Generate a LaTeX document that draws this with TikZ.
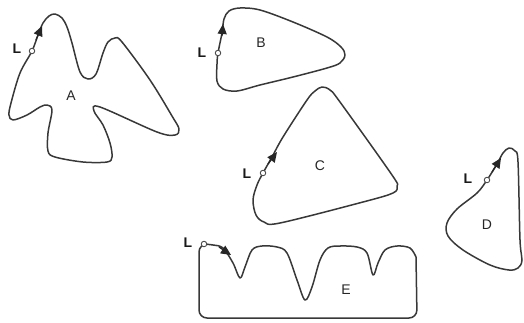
\documentclass[tikz,border=0pt]{standalone}
\usepackage{fontspec}
\setmainfont{Liberation Sans}
\usetikzlibrary{arrows.meta}

\begin{document}
\begin{tikzpicture}[
  x=1pt, y=-1pt,
  curve/.style  ={draw=black!78, line width=1.5pt, line join=round},
  start/.style  ={circle, draw=black!70, line width=0.9pt, fill=white, minimum size=5.5pt, inner sep=0pt},
  dir/.style    ={draw=black!85, line width=1.3pt, -{Triangle[length=10pt, width=9pt]}},
  shapelbl/.style={font=\fontsize{14}{16}\selectfont, text=black!85, inner sep=0pt},
  tag/.style    ={font=\fontsize{14}{16}\selectfont\bfseries, text=black!90, inner sep=0pt},
]
\useasboundingbox (0,0) rectangle (524,322);

\draw[curve] plot[smooth cycle, tension=0.55] coordinates {
  (32,51) (38,35) (43,23) (49,16) (55,14) (62,18) (67,27) (72,43) (80,72) (88,79)
  (96,74) (103,53) (108,42) (115,38) (122,42) (150,80) (172,116) (179,129) (175,135)
  (157,132) (100,107) (94,111) (103,125) (110,143) (112,157) (107,162) (83,162)
  (55,157) (48,151) (48,133) (52,110) (47,105) (40,107) (27,115) (13,120) (9,115)
  (11,103) (20,73)};

\draw[curve] plot[smooth cycle, tension=0.55] coordinates {
  (218,53) (222,33) (224,19) (229,11) (240,8) (260,10) (293,22) (327,37) (341,47)
  (345,55) (340,63) (327,68) (293,77) (260,85) (237,91) (223,89) (217,81) (217,64)};

\draw[curve] plot[smooth cycle, tension=0.55] coordinates {
  (263,173) (272,157) (283,137) (307,100) (315,91) (322,87) (330,90) (340,102)
  (392,175) (397,186) (393,193) (363,202) (280,223) (264,222) (256,215) (253,200)
  (257,185)};

\draw[curve] plot[smooth cycle, tension=0.55] coordinates {
  (487,180) (497,164) (503,153) (509,148) (515,151) (518,162) (520,240) (522,260)
  (518,268) (509,270) (490,265) (463,250) (448,236) (447,223) (457,209) (477,193)};

\draw[curve] plot[smooth, tension=0.55] coordinates {
  (203,244) (213,245) (223,248) (233,263) (240,278) (245,267) (252,250) (262,246)
  (277,247) (287,253) (297,280) (305,300) (312,287) (320,260) (328,248) (340,246)
  (357,247) (367,253) (373,275) (378,263) (385,250) (397,246) (410,248) (416,257)}
  [rounded corners=8pt] -- (417,318) -- (199,318) -- (199,244) -- (203,244);

\node[start] (startA) at (32,51) {};
\node[start] (startB) at (218,53) {};
\node[start] (startC) at (263,173) {};
\node[start] (startD) at (487,180) {};
\node[start] (startE) at (204,244) {};

\coordinate (tailA) at (36,40);
\coordinate (tipA) at (42,26);
\coordinate (tailB) at (222,36);
\coordinate (tipB) at (223,24);
\coordinate (tailC) at (268,164);
\coordinate (tipC) at (277,152);
\coordinate (tailD) at (492,172);
\coordinate (tipD) at (501,158);
\coordinate (tailE) at (219,247);
\coordinate (tipE) at (231,255);

\draw[dir] (tailA) -- (tipA);
\draw[dir] (tailB) -- (tipB);
\draw[dir] (tailC) -- (tipC);
\draw[dir] (tailD) -- (tipD);
\draw[dir] (tailE) -- (tipE);

\node[tag] (tagA) at (17,49) {L};
\node[tag] (tagB) at (202,53) {L};
\node[tag] (tagC) at (247,174) {L};
\node[tag] (tagD) at (468,179) {L};
\node[tag] (tagE) at (188,243) {L};

\node[shapelbl] (nameA) at (71,96) {A};
\node[shapelbl] (nameB) at (261,43) {B};
\node[shapelbl] (nameC) at (320,166) {C};
\node[shapelbl] (nameD) at (487,225) {D};
\node[shapelbl] (nameE) at (346,290) {E};

\end{tikzpicture}
\end{document}
